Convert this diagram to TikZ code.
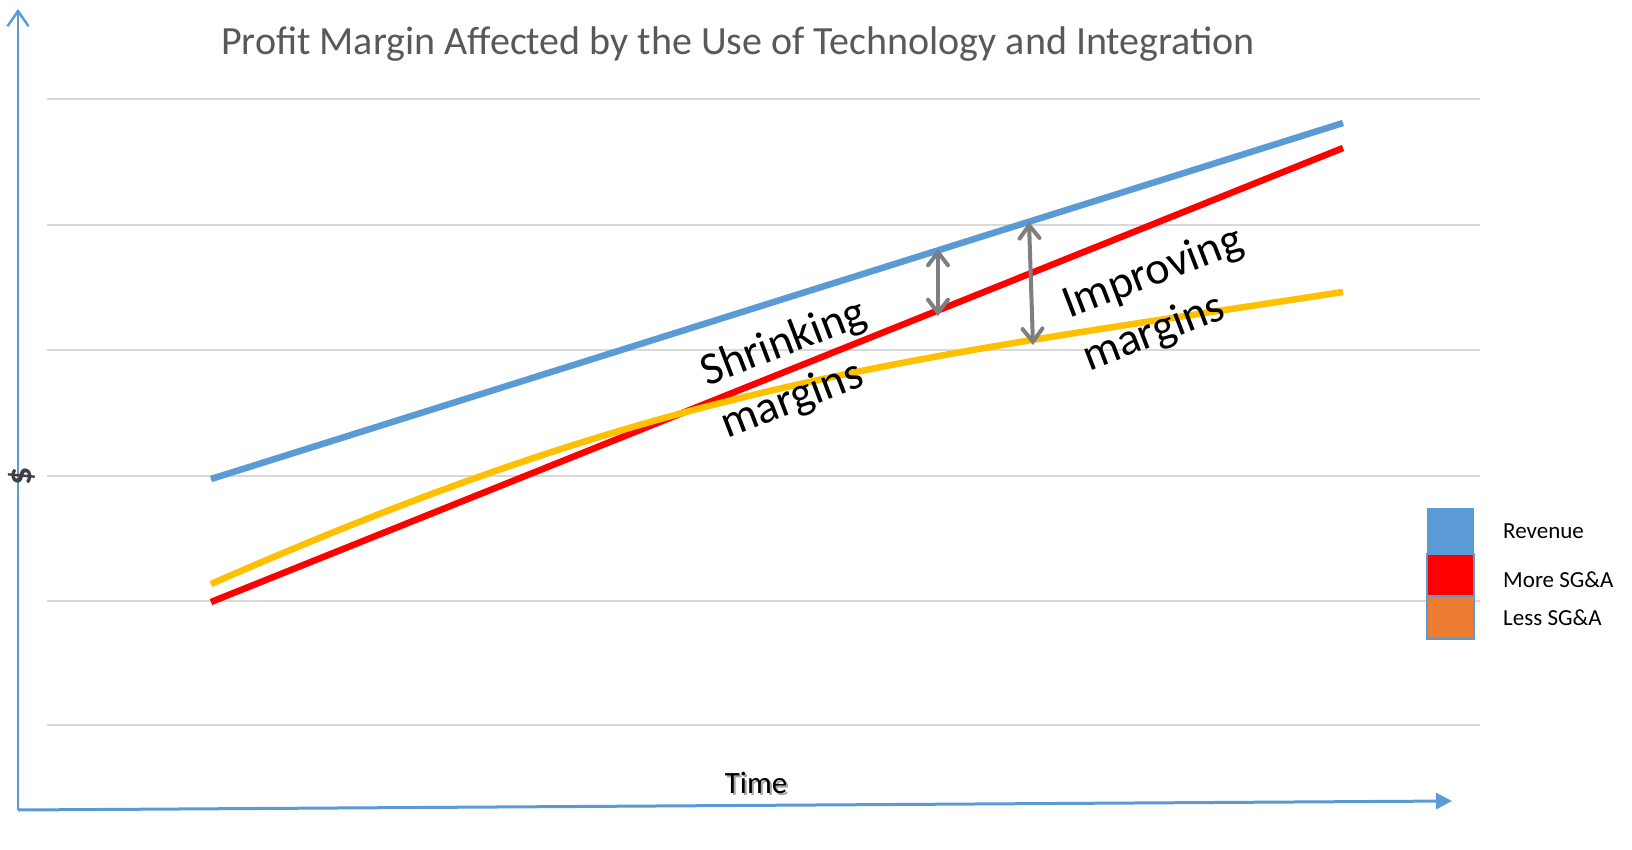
\documentclass[tikz,border=0pt]{standalone}
\usepackage{fontspec}
\setmainfont{Carlito}
\usetikzlibrary{arrows.meta}
\definecolor{axisblue}{HTML}{5B9BD5}
\definecolor{revblue}{HTML}{5B9BD5}
\definecolor{sgred}{HTML}{FF0000}
\definecolor{sgyellow}{HTML}{FFC000}
\definecolor{sgorange}{HTML}{ED7D31}
\definecolor{gridgrey}{HTML}{D9D9D9}
\definecolor{titlegrey}{HTML}{595959}
\definecolor{arrowgrey}{HTML}{7F7F7F}
\definecolor{dollargrey}{HTML}{404040}
\tikzset{
  gridline/.style={draw=gridgrey, line width=2pt},
  dataline/.style={line width=6.5pt},
  gaparrow/.style={draw=arrowgrey, line width=4pt, line cap=round,
    {Straight Barb[length=13pt,width=20pt,line cap=round]}-{Straight Barb[length=13pt,width=20pt,line cap=round]}},
  annot/.style={font=\fontsize{46}{56}\selectfont, align=left, rotate=21, inner sep=0pt},
  legtext/.style={font=\fontsize{23}{27}\selectfont, anchor=west, inner sep=0pt},
  legbox/.style={draw=axisblue, line width=2pt},
}
\begin{document}
\begin{tikzpicture}[x=1pt,y=-1pt]
\useasboundingbox[fill=white] (0,0) rectangle (1632,850);
% grid
\foreach \gy in {99,225,350,476,601,725}{
  \draw[gridline] (47,\gy) -- (1480,\gy);
}
% axes
\coordinate (origin) at (18,810);
\coordinate (ytop) at (18,9);
\coordinate (xend) at (1452,801);
\draw[axisblue, line width=2.5pt, -{Straight Barb[length=15pt,width=21pt]}] (origin) -- (ytop);
\draw[axisblue, line width=3pt, -{Triangle[length=16pt,width=16pt]}] (origin) -- (xend);
% title
\node[font=\fontsize{40}{46}\selectfont, text=titlegrey] (title) at (738,44) {Profit Margin Affected by the Use of Technology and Integration};
% axis labels
\node[font=\fontsize{36}{40}\selectfont\bfseries, text=dollargrey, rotate=90] (dollar) at (22,476) {\$};
\node[font=\fontsize{31}{36}\selectfont, text=black!35] (timeshadow) at (758,785) {Time};
\node[font=\fontsize{31}{36}\selectfont] (time) at (756,783) {Time};
% data lines
\coordinate (revA) at (211,479);
\coordinate (revB) at (1343,123);
\coordinate (redA) at (211,602);
\coordinate (redB) at (1343,148);
\coordinate (yelA) at (211,584);
\coordinate (yelB) at (1343,292);
\draw[dataline, revblue] (revA) -- (revB);
\draw[dataline, sgred] (redA) -- (redB);
\draw[dataline, sgyellow] (yelA) .. controls (667,384) and (887,362) .. (yelB);
% gap arrows
\coordinate (g1t) at (938,249);
\coordinate (g1b) at (938,316);
\coordinate (g2t) at (1029,222);
\coordinate (g2b) at (1033,345);
\draw[gaparrow] (g1t) -- (g1b);
\draw[gaparrow] (g2t) -- (g2b);
% annotations
\node[annot] (shrink) at (794,370) {Shrinking\\margins};
\node[annot] (improve) at (1163,300) {Improving\\margins};
% legend
\fill[revblue] (1427,508) rectangle (1474,553);
\filldraw[legbox, fill=sgred] (1427,554) rectangle (1474,596);
\filldraw[legbox, fill=sgorange] (1427,596) rectangle (1474,639);
\node[legtext] (lrev) at (1503,531) {Revenue};
\node[legtext] (lmore) at (1503,580) {More SG\&A};
\node[legtext] (lless) at (1503,618) {Less SG\&A};
\end{tikzpicture}
\end{document}
